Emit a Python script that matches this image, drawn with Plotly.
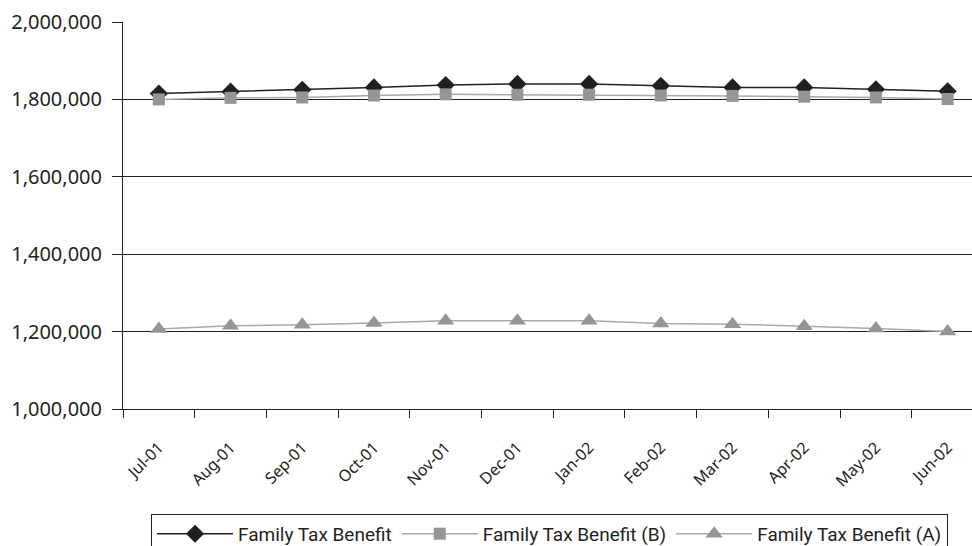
import plotly.graph_objects as go

months = ["Jul-01", "Aug-01", "Sep-01", "Oct-01", "Nov-01", "Dec-01",
          "Jan-02", "Feb-02", "Mar-02", "Apr-02", "May-02", "Jun-02"]

ftb_total = [1815000, 1820000, 1825000, 1831000, 1837000, 1840000,
             1840000, 1835000, 1831000, 1831000, 1826000, 1821000]
ftb_b = [1800000, 1804000, 1805000, 1810000, 1813000, 1812000,
         1812000, 1810000, 1809000, 1807000, 1805000, 1801000]
ftb_a = [1207000, 1215000, 1218000, 1222000, 1228000, 1228000,
         1228000, 1221000, 1219000, 1214000, 1208000, 1200000]

y_ticks = [1000000, 1200000, 1400000, 1600000, 1800000, 2000000]

fig = go.Figure()
fig.add_trace(go.Scatter(
    x=months, y=ftb_total, name="Family Tax Benefit", mode="lines+markers",
    line=dict(color="#231f20", width=1.5),
    marker=dict(symbol="diamond", size=14, color="#231f20"),
))
fig.add_trace(go.Scatter(
    x=months, y=ftb_b, name="Family Tax Benefit (B)", mode="lines+markers",
    line=dict(color="#a7a9ac", width=1.5),
    marker=dict(symbol="square", size=12, color="#939598"),
))
fig.add_trace(go.Scatter(
    x=months, y=ftb_a, name="Family Tax Benefit (A)", mode="lines+markers",
    line=dict(color="#a7a9ac", width=1.5),
    marker=dict(symbol="triangle-up", size=15, color="#939598"),
))

fig.update_layout(
    width=972, height=546,
    margin=dict(l=123, r=0, t=22, b=137, autoexpand=False),
    paper_bgcolor="white", plot_bgcolor="white",
    font=dict(family="Noto Sans", color="#231f20"),
    showlegend=True,
    legend=dict(
        orientation="h", x=0.033, y=-0.271, xanchor="left", yanchor="top",
        bordercolor="#231f20", borderwidth=1, bgcolor="white",
        font=dict(family="Roboto", size=19, color="#231f20"),
        itemwidth=76, tracegroupgap=0,
    ),
)
fig.update_xaxes(
    type="category", range=[-0.5, 11.34], automargin=False,
    tickson="boundaries", ticks="outside", ticklen=8, tickwidth=1, tickcolor="#231f20",
    showline=True, linecolor="#231f20", linewidth=1,
    showgrid=False, tickangle=-45, ticklabelstandoff=22,
    tickfont=dict(family="Noto Sans", size=16, color="#231f20"),
)
fig.update_yaxes(
    range=[1000000, 2000000], tickvals=y_ticks, tickformat=",", automargin=False,
    ticks="outside", ticklen=10, tickwidth=1, tickcolor="#231f20",
    showline=True, linecolor="#231f20", linewidth=1,
    showgrid=True, gridcolor="#231f20", gridwidth=1,
    zeroline=False, ticklabelstandoff=6,
    tickfont=dict(family="Noto Sans", size=20, color="#231f20"),
)

fig.write_html("out.html")
